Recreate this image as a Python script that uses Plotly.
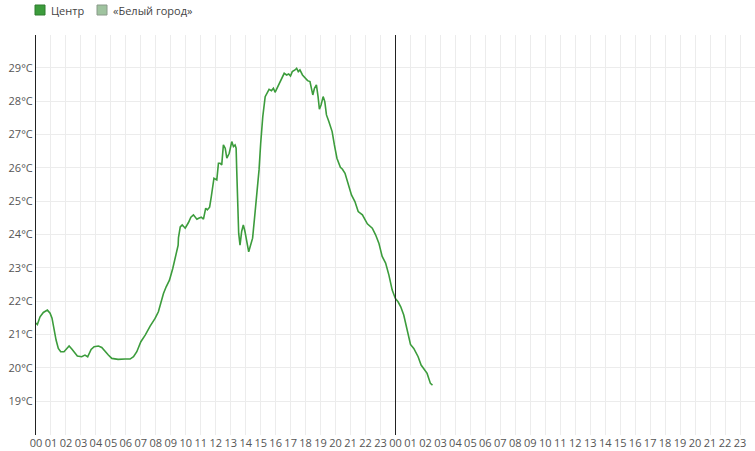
import pandas as pd
import plotly.graph_objects as go

# hours since midnight of day 1, temperature in °C (station "Центр")
hours = [0.00, 0.09, 0.27, 0.49, 0.76, 0.94, 1.07, 1.20, 1.34, 1.49, 1.65, 1.87,
         2.05, 2.21, 2.39, 2.56, 2.76, 3.05, 3.27, 3.45, 3.68, 3.88, 4.17, 4.39,
         4.61, 4.83, 5.06, 5.48, 5.95, 6.28, 6.51, 6.73, 7.00, 7.29, 7.62, 7.95,
         8.17, 8.33, 8.51, 8.69, 8.91, 9.13, 9.31, 9.49, 9.51, 9.63, 9.76, 9.96,
         10.18, 10.34, 10.51, 10.74, 10.86, 11.03, 11.18, 11.33, 11.44, 11.59, 11.70,
         11.81, 11.88, 12.07, 12.18, 12.29, 12.40, 12.51, 12.63, 12.74, 12.90, 13.07,
         13.18, 13.29, 13.36, 13.40, 13.47, 13.53, 13.62, 13.73, 13.84, 13.95, 14.20,
         14.31, 14.46, 14.62, 14.77, 14.89, 15.00, 15.14, 15.30, 15.45, 15.56, 15.72,
         15.85, 15.96, 16.09, 16.27, 16.43, 16.57, 16.73, 16.87, 16.99, 17.11, 17.29,
         17.40, 17.51, 17.62, 17.79, 17.97, 18.13, 18.29, 18.39, 18.48, 18.59, 18.72,
         18.83, 18.92, 19.03, 19.17, 19.28, 19.39, 19.55, 19.77, 19.92, 20.09, 20.32,
         20.46, 20.63, 20.84, 21.06, 21.29, 21.51, 21.79, 22.12, 22.45, 22.67, 22.89,
         23.11, 23.34, 23.56, 23.78, 23.99, 24.17, 24.35, 24.55, 24.78, 25.00, 25.22,
         25.51, 25.71, 25.89, 26.11, 26.33, 26.47]
temps = [21.34, 21.30, 21.53, 21.66, 21.73, 21.64, 21.49, 21.13, 20.83, 20.58, 20.48,
         20.48, 20.58, 20.65, 20.56, 20.45, 20.35, 20.33, 20.38, 20.33, 20.55, 20.63,
         20.65, 20.61, 20.48, 20.38, 20.28, 20.25, 20.26, 20.26, 20.33, 20.48, 20.78,
         20.98, 21.25, 21.48, 21.68, 21.98, 22.23, 22.43, 22.63, 22.98, 23.38, 23.68,
         23.90, 24.23, 24.29, 24.19, 24.36, 24.52, 24.59, 24.46, 24.49, 24.52, 24.46,
         24.79, 24.74, 24.82, 25.13, 25.44, 25.69, 25.64, 26.14, 26.14, 26.09, 26.69,
         26.59, 26.29, 26.44, 26.79, 26.64, 26.69, 26.59, 25.94, 24.84, 24.04, 23.68,
         24.09, 24.29, 24.09, 23.48, 23.68, 23.89, 24.64, 25.34, 25.94, 26.74, 27.54,
         28.14, 28.29, 28.36, 28.32, 28.39, 28.27, 28.39, 28.59, 28.74, 28.84, 28.79,
         28.82, 28.76, 28.89, 28.94, 28.99, 28.89, 28.94, 28.79, 28.69, 28.62, 28.59,
         28.34, 28.19, 28.39, 28.49, 28.14, 27.76, 27.89, 28.14, 27.99, 27.59, 27.39,
         27.09, 26.69, 26.29, 26.02, 25.96, 25.84, 25.54, 25.19, 24.99, 24.69, 24.59,
         24.32, 24.19, 23.99, 23.74, 23.34, 23.14, 22.78, 22.33, 22.08, 21.98, 21.83,
         21.58, 21.13, 20.70, 20.58, 20.33, 20.08, 19.98, 19.83, 19.53, 19.48]

series_names = ["Центр", "«Белый город»"]
series_colors = ["#3c9c3c", "#9fc39f"]
series_borders = ["#2f7d2f", "#8a9a8a"]
y_ticks = list(range(19, 30))

W, H = 755, 451
ML, MR, MT, MB = 36, 0, 35, 16

start = pd.Timestamp("2023-07-10 00:00")
times = [start + pd.Timedelta(hours=h) for h in hours]

fig = go.Figure()
fig.add_trace(go.Scatter(x=times, y=temps, mode="lines", name=series_names[0],
                         showlegend=False,
                         line=dict(color=series_colors[0], width=1.6)))

midnight = start + pd.Timedelta(hours=24)
fig.add_shape(type="line", xref="x", yref="paper", x0=midnight, x1=midnight,
              y0=0, y1=1, line=dict(color="#222", width=1))


# legend drawn by hand so the swatch/text spacing matches
def px(x):
    return (x - ML) / (W - ML - MR)


def py(y):
    return (H - MB - y) / (H - MT - MB)


leg_x = [35, 97]
for lx, name, col, border in zip(leg_x, series_names, series_colors, series_borders):
    fig.add_shape(type="rect", xref="paper", yref="paper",
                  x0=px(lx), x1=px(lx + 10), y0=py(15), y1=py(5),
                  fillcolor=col, line=dict(color=border, width=1))
    fig.add_annotation(xref="paper", yref="paper", x=px(lx + 14), y=py(10.5),
                       text=name, showarrow=False, xanchor="left", yanchor="middle",
                       font=dict(size=11, color="#444"))

fig.update_layout(
    width=W, height=H,
    margin=dict(l=ML, r=MR, t=MT, b=MB, autoexpand=False),
    paper_bgcolor="white", plot_bgcolor="white",
    font=dict(family="Open Sans", size=11, color="#555"),
    showlegend=False,
    xaxis=dict(type="date", range=[start, start + pd.Timedelta(hours=48)],
               tickformat="%H", dtick=3600000, tick0=start,
               showgrid=True, gridcolor="#ececec", gridwidth=1,
               showline=False, zeroline=False, ticks="", automargin=False),
    yaxis=dict(range=[17.98, 29.99], tickvals=y_ticks,
               ticktext=[f"{v}°C" for v in y_ticks],
               showgrid=True, gridcolor="#ececec", gridwidth=1,
               showline=True, linecolor="#222", linewidth=1,
               zeroline=False, ticks="", automargin=False),
)

fig.write_html("out.html", config={"displayModeBar": False},
               post_script="document.body.style.margin='0';")
